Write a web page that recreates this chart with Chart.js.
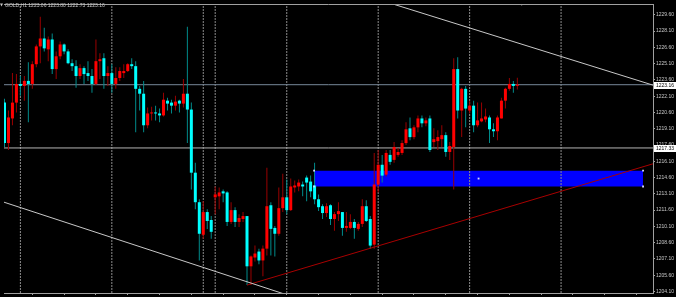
<!DOCTYPE html>
<html>
<head>
<meta charset="utf-8">
<script src="https://cdn.jsdelivr.net/npm/chart.js@4.4.1/dist/chart.umd.min.js"></script>
<style>
  html, body { margin: 0; padding: 0; background: #000; }
</style>
</head>
<body>
<canvas id="chart" width="676" height="297"></canvas>
<script>
// GOLD H1 bars, oldest first (last one is the live bar)
const symbol = 'GOLD,H1';
const opens = [
  1221.51, 1217.78, 1220.05, 1221.51, 1223.23, 1223.05, 1223.51, 1223.23, 1225.05, 1226.69,
  1227.42, 1226.42, 1227.33, 1224.60, 1225.78, 1226.87, 1226.23, 1225.14, 1224.87, 1223.96,
  1224.69, 1224.23, 1223.96, 1223.23, 1225.33, 1225.60, 1223.96, 1224.23, 1223.23, 1223.78,
  1224.23, 1224.42, 1225.05, 1224.87, 1222.78, 1222.33, 1219.42, 1220.51, 1220.60, 1220.51,
  1220.33, 1221.69, 1221.51, 1221.23, 1221.69, 1221.42, 1222.33, 1220.87, 1215.05, 1212.33,
  1209.33, 1211.42, 1210.69, 1212.78, 1212.87, 1213.33, 1213.23, 1210.51, 1211.60, 1210.51,
  1210.78, 1211.05, 1206.42, 1207.23, 1207.78, 1206.96, 1208.05, 1212.05, 1209.96, 1209.42,
  1211.78, 1212.78, 1211.60, 1213.69, 1213.78, 1213.96, 1214.60, 1214.23, 1213.87, 1212.60,
  1211.96, 1211.33, 1212.05, 1210.78, 1211.23, 1211.42, 1209.96, 1209.96, 1210.51, 1209.87,
  1210.33, 1211.96, 1210.78, 1208.42, 1213.96, 1215.78, 1214.87, 1216.69, 1216.23, 1216.69,
  1216.87, 1217.78, 1219.14, 1218.33, 1219.23, 1220.05, 1219.60, 1220.05, 1217.87, 1217.96,
  1218.14, 1218.51, 1216.96, 1217.42, 1224.60, 1220.78, 1222.78, 1220.78, 1221.23, 1219.42,
  1219.78, 1219.96, 1220.14, 1219.05, 1218.87, 1220.05, 1221.69, 1222.78, 1223.23, 1223.06
];
const highs = [
  1221.87, 1220.78, 1224.23, 1224.14, 1223.96, 1223.96, 1225.23, 1225.33, 1226.87, 1229.42,
  1228.42, 1227.60, 1227.87, 1226.23, 1227.14, 1226.96, 1226.42, 1225.51, 1225.42, 1225.05,
  1224.87, 1225.33, 1224.60, 1227.33, 1226.05, 1226.05, 1224.87, 1225.05, 1224.78, 1224.78,
  1225.05, 1225.14, 1225.60, 1225.33, 1223.05, 1223.51, 1221.05, 1221.14, 1221.23, 1220.96,
  1222.42, 1221.96, 1221.78, 1222.14, 1221.78, 1223.69, 1228.51, 1221.51, 1215.96, 1212.60,
  1212.42, 1211.69, 1211.05, 1213.78, 1213.69, 1213.51, 1213.33, 1212.33, 1211.87, 1211.23,
  1211.42, 1211.05, 1207.42, 1208.33, 1208.05, 1208.33, 1215.51, 1212.33, 1210.14, 1213.69,
  1214.96, 1214.42, 1214.51, 1214.33, 1214.42, 1214.23, 1214.78, 1214.78, 1215.96, 1213.05,
  1212.14, 1212.23, 1212.14, 1211.42, 1212.33, 1211.42, 1211.42, 1211.23, 1210.78, 1210.51,
  1212.60, 1212.51, 1211.05, 1216.87, 1217.14, 1216.69, 1217.14, 1217.14, 1217.87, 1217.33,
  1218.05, 1219.69, 1220.14, 1219.42, 1220.33, 1220.33, 1220.14, 1220.33, 1219.14, 1218.96,
  1219.42, 1218.78, 1217.87, 1225.60, 1225.69, 1222.87, 1223.05, 1221.69, 1221.69, 1221.51,
  1221.51, 1220.96, 1220.33, 1219.60, 1220.33, 1221.96, 1222.87, 1223.78, 1223.51, 1223.80
];
const lows = [
  1217.42, 1217.14, 1219.42, 1220.60, 1222.14, 1221.69, 1219.69, 1222.78, 1224.78, 1225.14,
  1226.23, 1225.33, 1224.14, 1223.69, 1225.51, 1225.96, 1225.05, 1224.42, 1222.87, 1223.69,
  1223.23, 1223.51, 1222.42, 1223.14, 1223.69, 1222.78, 1223.05, 1222.42, 1222.78, 1223.51,
  1223.78, 1224.33, 1224.60, 1218.78, 1220.78, 1218.78, 1219.14, 1219.87, 1219.87, 1219.69,
  1220.23, 1220.78, 1220.51, 1220.78, 1220.60, 1221.05, 1217.78, 1213.51, 1211.69, 1206.96,
  1208.96, 1209.87, 1208.96, 1211.23, 1211.69, 1212.33, 1210.14, 1210.33, 1210.05, 1210.05,
  1210.51, 1204.69, 1204.69, 1206.87, 1206.60, 1205.51, 1207.42, 1207.42, 1207.33, 1209.23,
  1211.42, 1211.23, 1211.51, 1213.23, 1213.33, 1212.87, 1212.42, 1212.78, 1212.14, 1211.51,
  1210.78, 1210.96, 1210.23, 1209.69, 1210.60, 1209.23, 1209.60, 1209.87, 1208.96, 1209.69,
  1210.05, 1210.51, 1208.05, 1208.05, 1213.23, 1214.14, 1214.69, 1215.78, 1215.96, 1216.51,
  1216.69, 1217.60, 1218.05, 1218.14, 1218.78, 1219.23, 1219.33, 1216.96, 1217.42, 1217.14,
  1217.42, 1216.51, 1216.23, 1213.51, 1220.05, 1218.33, 1219.23, 1220.51, 1218.78, 1219.23,
  1219.69, 1219.69, 1217.78, 1218.33, 1218.05, 1220.05, 1220.96, 1222.60, 1222.42, 1222.73
];
const closes = [
  1217.78, 1220.14, 1221.51, 1223.23, 1223.05, 1223.51, 1223.23, 1225.05, 1226.69, 1227.42,
  1226.51, 1227.33, 1224.60, 1225.78, 1226.87, 1226.23, 1225.14, 1224.87, 1223.96, 1224.69,
  1224.14, 1223.96, 1223.23, 1225.33, 1225.51, 1223.96, 1224.23, 1223.23, 1223.78, 1224.42,
  1224.42, 1225.05, 1224.87, 1222.78, 1222.33, 1219.42, 1220.51, 1220.60, 1220.51, 1220.33,
  1221.78, 1221.42, 1221.23, 1221.60, 1221.42, 1222.33, 1220.87, 1215.05, 1212.33, 1209.42,
  1211.42, 1210.60, 1209.60, 1213.05, 1213.23, 1213.14, 1210.51, 1211.60, 1210.51, 1210.87,
  1211.05, 1206.42, 1207.33, 1207.60, 1206.96, 1208.05, 1211.96, 1209.87, 1209.42, 1211.78,
  1212.78, 1211.60, 1213.78, 1213.87, 1214.14, 1213.78, 1214.14, 1213.33, 1212.60, 1211.87,
  1211.33, 1211.96, 1210.78, 1211.23, 1211.51, 1209.96, 1210.14, 1210.51, 1209.96, 1210.33,
  1211.96, 1210.60, 1208.33, 1213.96, 1215.78, 1214.78, 1216.87, 1216.05, 1217.42, 1216.96,
  1217.78, 1219.05, 1218.33, 1219.23, 1220.05, 1219.60, 1219.87, 1217.14, 1218.14, 1218.33,
  1218.51, 1216.96, 1217.51, 1224.60, 1220.78, 1222.78, 1220.96, 1221.23, 1219.42, 1219.87,
  1220.05, 1220.23, 1219.05, 1218.87, 1220.14, 1221.69, 1222.78, 1223.23, 1223.05, 1223.16
];

const priceTicks = [
  1204.10, 1205.60, 1207.10, 1208.60, 1210.10, 1211.60, 1213.10, 1214.60, 1216.10,
  1217.60, 1219.10, 1220.60, 1222.10, 1223.60, 1225.10, 1226.60, 1228.10, 1229.60
];
const timeTicks = [7, 15, 23, 31, 39, 47, 55, 63, 71, 79, 87, 95, 103, 111, 119, 127, 135, 143, 151, 159];
const separatorBars = [4, 27, 50, 53, 71, 94, 117, 140];
const bidPrice = 1223.16;
const levelPrice = 1217.33;
const trendWhiteA = [[-0.125, 1212.33], [72.375, 1203.63]];
const trendWhiteB = [[96.125, 1230.78], [163.125, 1223.12]];
const trendRed = [[61, 1204.69], [163.125, 1215.87]];
const zoneBars = [77.875, 160.625];
const zonePrices = [1215.24, 1213.78];
const arrowMark = [130.125, 1230.62];

const xMin = -0.125, xMax = 163.125;
const yMin = 1203.96, yMax = 1230.60;

const bullBody = '#ff0000', bearBody = '#00ffff';
const bullWick = '#990000', bearWick = '#008b8b';

const isBull = closes.map((c, i) => c > opens[i]);

const lineSet = (pts, color, order, dash) => ({
  type: 'line',
  data: pts.map(([x, y]) => ({ x, y })),
  borderColor: color,
  borderWidth: 1,
  borderDash: dash || [],
  pointRadius: 0,
  fill: false,
  order: order
});

const datasets = [];

// zone rectangle: fill between two horizontal edges
datasets.push({
  type: 'line',
  data: zoneBars.map(x => ({ x, y: zonePrices[0] })),
  borderWidth: 0, pointRadius: 0,
  backgroundColor: '#0000ff',
  fill: '+1',
  order: 20
});
datasets.push({
  type: 'line',
  data: zoneBars.map(x => ({ x, y: zonePrices[1] })),
  borderWidth: 0, pointRadius: 0,
  fill: false,
  order: 20
});

separatorBars.forEach(b => {
  datasets.push(lineSet([[b, yMin], [b, yMax]], '#8c8c8c', 10, [2, 1]));
});
datasets.push(lineSet([[xMin, bidPrice], [xMax, bidPrice]], '#778899', 9));
datasets.push(lineSet([[xMin, levelPrice], [xMax, levelPrice]], '#b4b4b4', 9));

// wicks and bodies
datasets.push({
  type: 'bar',
  data: opens.map((o, i) => ({ x: i, y: [lows[i], highs[i]] })),
  backgroundColor: isBull.map(b => b ? bullWick : bearWick),
  barThickness: 1,
  grouped: false,
  inflateAmount: 0,
  borderWidth: 0,
  order: 2
});
datasets.push({
  type: 'bar',
  data: opens.map((o, i) => ({ x: i, y: [o, closes[i]] })),
  backgroundColor: isBull.map(b => b ? bullBody : bearBody),
  barThickness: 3,
  minBarLength: 1,
  grouped: false,
  inflateAmount: 0,
  borderWidth: 0,
  order: 1
});

datasets.push(lineSet(trendWhiteA, '#c8c8c8', 0));
datasets.push(lineSet(trendWhiteB, '#c8c8c8', 0));
datasets.push(lineSet(trendRed, '#a80000', 0));

// selection handles of the zone
const zoneMid = (zoneBars[0] + zoneBars[1]) / 2;
const zoneMidPrice = (zonePrices[0] + zonePrices[1]) / 2;
datasets.push({
  type: 'scatter',
  data: [
    { x: zoneBars[0], y: zonePrices[0] }, { x: zoneBars[0], y: zonePrices[1] },
    { x: zoneBars[1], y: zonePrices[0] }, { x: zoneBars[1], y: zonePrices[1] },
    { x: zoneMid, y: zoneMidPrice }
  ],
  pointStyle: 'rect',
  pointRadius: 1.3,
  backgroundColor: '#d8d8ff',
  borderWidth: 0,
  showLine: false,
  order: -1
});
datasets.push({
  type: 'scatter',
  data: [{ x: arrowMark[0], y: arrowMark[1] }],
  pointStyle: 'triangle',
  rotation: 180,
  pointRadius: 2,
  backgroundColor: '#e0e0e0',
  borderWidth: 0,
  order: -1
});

const mtOverlay = {
  id: 'mtOverlay',
  beforeDraw(chart) {
    const { ctx, width, height } = chart;
    ctx.save();
    ctx.fillStyle = '#000';
    ctx.fillRect(0, 0, width, height);
    ctx.restore();
  },
  afterDraw(chart) {
    const { ctx, chartArea, scales } = chart;
    const y = scales.y;
    ctx.save();
    ctx.strokeStyle = '#a0a0a0';
    ctx.lineWidth = 1;
    ctx.beginPath();
    ctx.moveTo(chartArea.left, chartArea.top + 0.5);
    ctx.lineTo(chartArea.right, chartArea.top + 0.5);
    ctx.stroke();

    ctx.font = '5px "Liberation Sans"';
    ctx.textBaseline = 'middle';
    [bidPrice, levelPrice].forEach(p => {
      const py = Math.round(y.getPixelForValue(p));
      ctx.fillStyle = '#ffffff';
      ctx.fillRect(chartArea.right + 1, py - 3, chart.width - chartArea.right - 1, 7);
      ctx.fillStyle = '#000000';
      ctx.fillText(p.toFixed(2), chartArea.right + 3, py + 0.5);
    });

    // title with the live bar
    const last = opens.length - 1;
    const title = symbol + ' ' + [opens[last], highs[last], lows[last], closes[last]].map(v => v.toFixed(2)).join(' ');
    ctx.fillStyle = '#c8c8c8';
    ctx.beginPath();
    ctx.moveTo(0, 3.5); ctx.lineTo(3, 3.5); ctx.lineTo(1.5, 6.5);
    ctx.closePath();
    ctx.fill();
    ctx.fillText(title, 5, 5.5);
    ctx.restore();
  }
};

new Chart(document.getElementById('chart'), {
  type: 'bar',
  data: { datasets },
  options: {
    responsive: false,
    animation: false,
    devicePixelRatio: 1,
    layout: { padding: { top: 2, left: 0, right: 0, bottom: 0 } },
    plugins: { legend: { display: false }, tooltip: { enabled: false } },
    scales: {
      x: {
        type: 'linear',
        offset: false,
        min: xMin,
        max: xMax,
        afterBuildTicks: axis => { axis.ticks = timeTicks.map(v => ({ value: v })); },
        ticks: { display: false },
        grid: { drawOnChartArea: false, color: '#a0a0a0', tickLength: 2, offset: false },
        border: { color: '#a0a0a0' }
      },
      y: {
        position: 'right',
        min: yMin,
        max: yMax,
        beginAtZero: false,
        afterBuildTicks: axis => { axis.ticks = priceTicks.map(v => ({ value: v })); },
        afterFit: axis => { axis.width = 23; axis.paddingTop = 0; axis.paddingBottom = 0; },
        ticks: {
          autoSkip: false,
          color: '#c8c8c8',
          padding: 1,
          font: { family: 'Liberation Sans', size: 5 },
          callback: v => v.toFixed(2)
        },
        grid: { drawOnChartArea: false, color: '#a0a0a0', tickLength: 2 },
        border: { color: '#a0a0a0' }
      }
    }
  },
  plugins: [mtOverlay]
});
</script>
</body>
</html>
